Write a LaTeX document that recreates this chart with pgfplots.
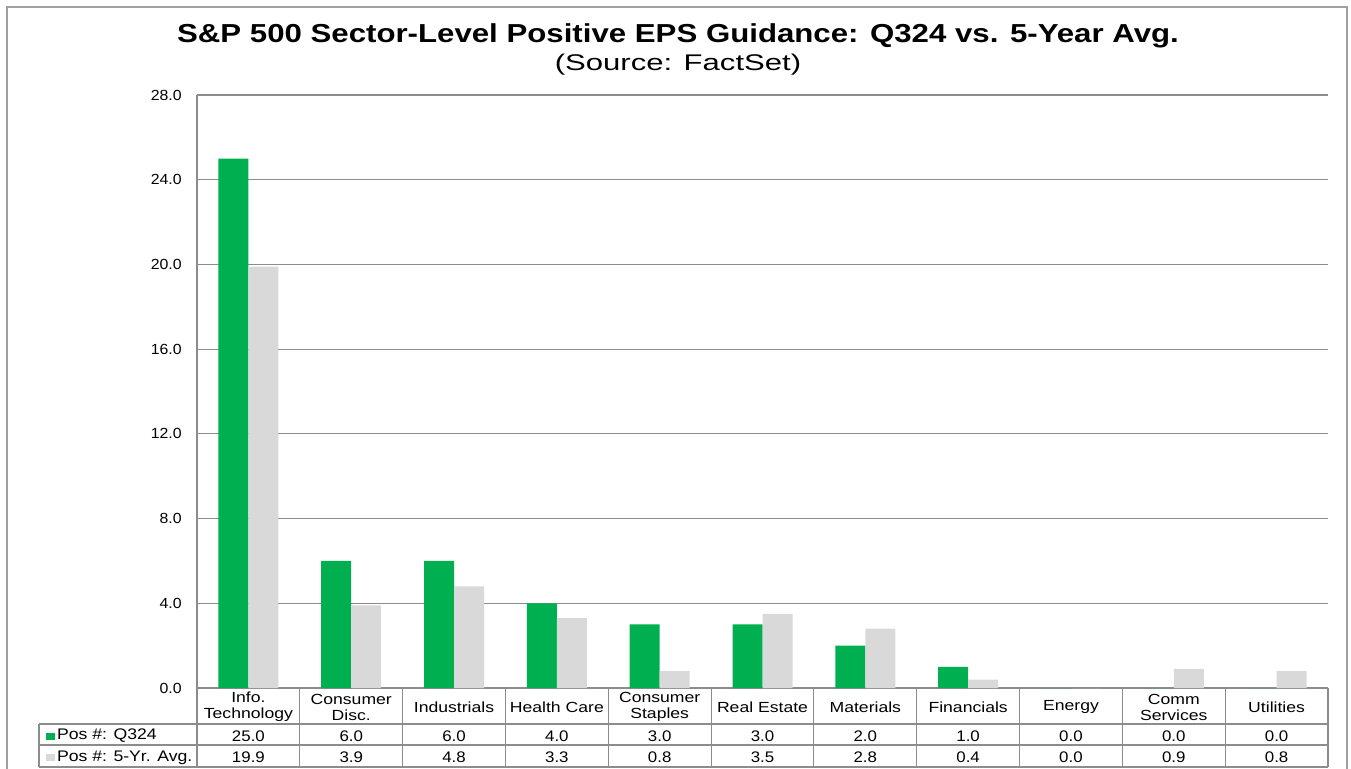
\documentclass[border=0pt]{standalone}
\usepackage{pgfplots}
\usepackage{pgfplotstable}
\usepackage{fontspec}
\setmainfont{Liberation Sans}
\pgfplotsset{compat=1.18}
\definecolor{qgreen}{HTML}{00B050}
\definecolor{agray}{HTML}{D9D9D9}
\definecolor{gridgray}{HTML}{8C8C8C}
\definecolor{framegray}{HTML}{A0A0A0}
\pgfplotstableread{
x q a
0 25.0 19.9
1 6.0 3.9
2 6.0 4.8
3 4.0 3.3
4 3.0 0.8
5 3.0 3.5
6 2.0 2.8
7 1.0 0.4
8 0.0 0.0
9 0.0 0.9
10 0.0 0.8
}\data
\begin{document}
\begin{tikzpicture}
\useasboundingbox (-147.75pt,-60pt) rectangle (865.5pt,516pt);
\draw[framegray, line width=1.2pt] (-142.5pt,-62pt) -- (-142.5pt,510.75pt) -- (862.5pt,510.75pt) -- (862.5pt,-62pt);
\node[font=\fontsize{19.5pt}{21pt}\selectfont\bfseries] at (360.75pt,489pt) {\scalebox{1.2}[1]{S\&P 500 Sector-Level Positive EPS Guidance: Q324 vs. 5-Year Avg.}};
\node[font=\fontsize{17pt}{19pt}\selectfont] at (360.75pt,467.25pt) {\scalebox{1.37}[1]{(Source: FactSet)}};
\begin{axis}[
  at={(0,0)}, anchor=south west,
  scale only axis, width=848.25pt, height=444.75pt,
  xmin=-0.5, xmax=10.5, ymin=0, ymax=28,
  clip=false,
  axis lines=left,
  axis line style={gridgray, -, line width=0.8pt},
  ytick={0,4,...,28},
  ymajorgrids, grid style={gridgray, line width=0.8pt},
  major tick length=0pt,
  /pgf/number format/assume math mode=true,
  yticklabel={\pgfmathprintnumber[fixed,fixed zerofill,precision=1]{\tick}},
  yticklabel style={font=\fontsize{11pt}{12pt}\selectfont, anchor=east, inner sep=0pt, xshift=-11.25pt, xscale=1.08},
  xtick={0,...,10},
  xticklabels={{Info.\\Technology},{Consumer\\Disc.},Industrials,{Health Care},{Consumer\\Staples},{Real Estate},Materials,Financials,Energy,{Comm\\Services},Utilities},
  xticklabel style={font=\fontsize{11pt}{12pt}\selectfont, align=center, anchor=center, inner sep=0pt, yshift=-14.25pt, xscale=1.2},
]
\addplot[ybar, bar width=22.5pt, bar shift=-11.25pt, fill=qgreen, draw=none] table[x=x,y=q]{\data};
\addplot[ybar, bar width=22.5pt, bar shift=11.25pt, fill=agray, draw=none] table[x=x,y=a]{\data};
\addplot[draw=none, mark=none, forget plot, nodes near coords, point meta=explicit,
  nodes near coords style={anchor=center, inner sep=0pt, xscale=1.1, font=\fontsize{11.5pt}{12pt}\selectfont, /pgf/number format/.cd, fixed, fixed zerofill, precision=1}]
  table[x=x, y expr=-2.27, meta=q]{\data};
\addplot[draw=none, mark=none, forget plot, nodes near coords, point meta=explicit,
  nodes near coords style={anchor=center, inner sep=0pt, xscale=1.1, font=\fontsize{11.5pt}{12pt}\selectfont, /pgf/number format/.cd, fixed, fixed zerofill, precision=1}]
  table[x=x, y expr=-3.28, meta=a]{\data};
% table grid
\draw[gridgray, line width=0.8pt] ([xshift=-118.5pt]axis cs:-0.5,-1.70) -- (axis cs:10.5,-1.70);
\draw[gridgray, line width=0.8pt] ([xshift=-118.5pt]axis cs:-0.5,-2.691) -- (axis cs:10.5,-2.691);
\draw[gridgray, line width=0.8pt] ([xshift=-118.5pt]axis cs:-0.5,-3.73) -- (axis cs:10.5,-3.73);
\draw[gridgray, line width=0.8pt] ([xshift=-118.5pt]axis cs:-0.5,-1.70) -- ([xshift=-118.5pt]axis cs:-0.5,-3.73);
\draw[gridgray, line width=0.8pt] (axis cs:-0.5,0) -- (axis cs:-0.5,-3.73);
\pgfplotsinvokeforeach{0.5,1.5,2.5,3.5,4.5,5.5,6.5,7.5,8.5,9.5,10.5}{\draw[gridgray, line width=0.8pt] (axis cs:#1,0) -- (axis cs:#1,-3.73);}
\node[anchor=west, inner sep=0pt, font=\fontsize{11.5pt}{12pt}\selectfont, xscale=1.15] at ([xshift=-113.25pt]axis cs:-0.5,-2.27) {\textcolor{qgreen}{\rule{5.5pt}{5.5pt}}\hspace{1.5pt}Pos \#: Q324};
\node[anchor=west, inner sep=0pt, font=\fontsize{11.5pt}{12pt}\selectfont, xscale=1.15] at ([xshift=-113.25pt]axis cs:-0.5,-3.28) {\textcolor{agray}{\rule{5.5pt}{5.5pt}}\hspace{1.5pt}Pos \#: 5-Yr. Avg.};
\end{axis}
\end{tikzpicture}
\end{document}
